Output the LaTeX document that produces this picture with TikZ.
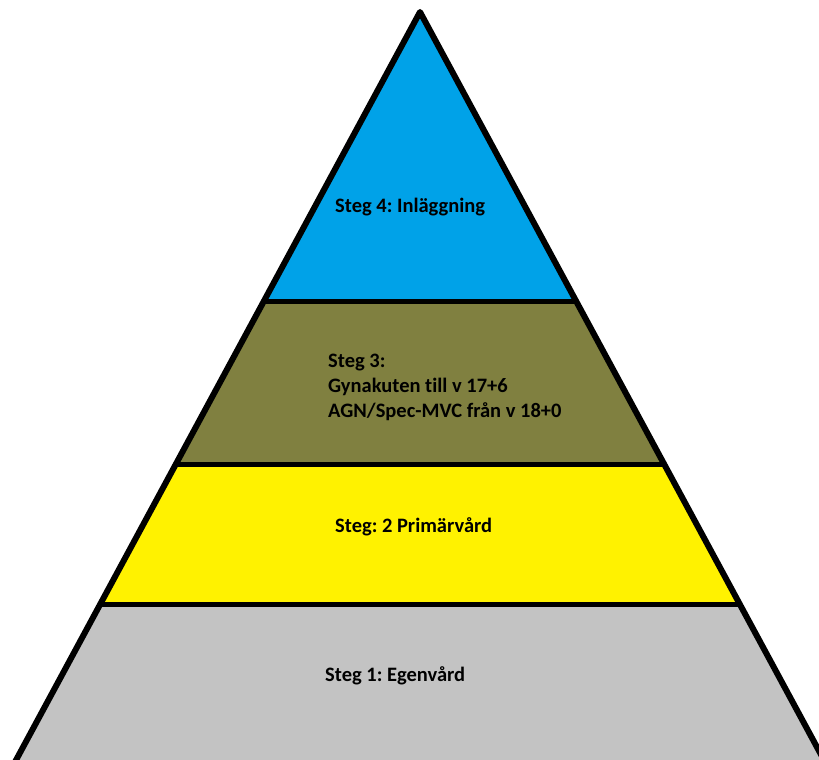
\documentclass[tikz,border=0pt]{standalone}
\usepackage{fontspec}
\setmainfont{Carlito}[Ligatures={NoCommon}]
\frenchspacing
\definecolor{stegfyra}{RGB}{0,162,232}
\definecolor{stegtre}{RGB}{128,128,64}
\definecolor{stegtva}{RGB}{255,242,0}
\definecolor{stegett}{RGB}{195,195,195}

\begin{document}
\begin{tikzpicture}[x=1pt, y=-1pt,
                    line cap=round, line join=round,
                    edge/.style={black, line width=6pt},
                    divider/.style={black, line width=5pt},
                    steptext/.style={anchor=west, inner sep=0pt, align=left,
                                     font=\fontsize{20.5}{25}\selectfont\bfseries}]
  \useasboundingbox (0,0) rectangle (819,760);
  \clip (0,0) rectangle (819,760);
  \def\slope{0.54}  % half width per unit of height
  \def\apexX{420}
  \def\apexY{12}

  \coordinate (apex) at (\apexX,\apexY);
  \coordinate (baseL) at ({\apexX-\slope*(800-\apexY)},800);
  \coordinate (baseR) at ({\apexX+\slope*(800-\apexY)},800);

  % coloured bands
  \begin{scope}
    \clip (apex) -- (baseL) -- (baseR) -- cycle;
    \fill[stegfyra] (0,0)   rectangle (819,301);
    \fill[stegtre]  (0,301) rectangle (819,464);
    \fill[stegtva]  (0,464) rectangle (819,604);
    \fill[stegett]  (0,604) rectangle (819,800);
  \end{scope}

  % dividers between the steps
  \foreach \yy [evaluate={\dx=\slope*(\yy-\apexY);}] in {301,464,604}{
    \draw[divider] (\apexX-\dx,\yy) -- (\apexX+\dx,\yy);
  }

  % outline
  \draw[edge] (baseL) -- (apex) -- (baseR);

  % labels
  \node[steptext] (steg4) at (335,207) {Steg 4: Inläggning};
  \node[steptext] (steg3) at (328,387) {Steg 3:\\Gynakuten till v 17+6\\AGN/Spec-MVC från v 18+0};
  \node[steptext] (steg2) at (335,527) {Steg: 2 Primärvård};
  \node[steptext] (steg1) at (325,676) {Steg 1: Egenvård};
\end{tikzpicture}
\end{document}
